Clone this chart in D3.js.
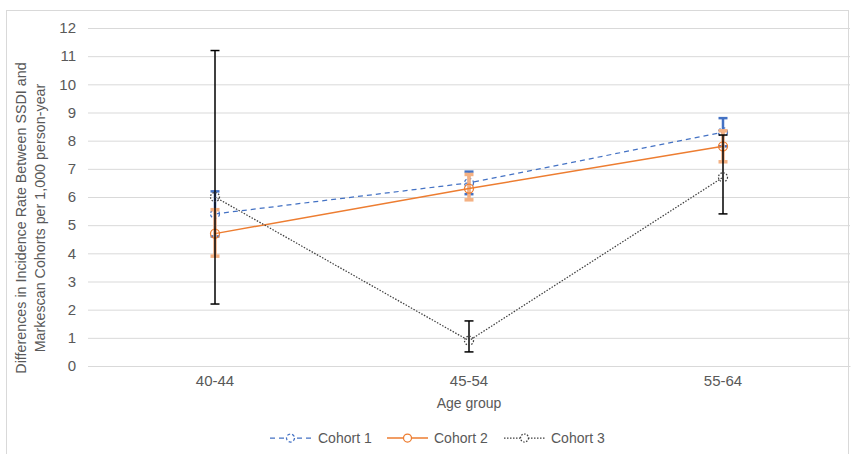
<!DOCTYPE html>
<html><head><meta charset="utf-8">
<script src="https://cdn.jsdelivr.net/npm/d3@7"></script>
<style>body{margin:0;background:#fff}svg{display:block;font-family:"Liberation Sans",Arial,sans-serif}</style>
</head><body><svg id="c" width="853" height="454"></svg>
<script>
const categories = ["40-44", "45-54", "55-64"];
const seriesNames = ["Cohort 1", "Cohort 2", "Cohort 3"];
const cohort1 = [5.4, 6.5, 8.3];
const cohort1Low = [4.6, 6.1, 7.8];
const cohort1High = [6.2, 6.9, 8.8];
const cohort2 = [4.7, 6.3, 7.8];
const cohort2Low = [3.9, 5.9, 7.25];
const cohort2High = [5.55, 6.8, 8.35];
const cohort3 = [6.0, 0.9, 6.7];
const cohort3Low = [2.2, 0.5, 5.4];
const cohort3High = [11.2, 1.6, 8.2];
const yTicks = [0,1,2,3,4,5,6,7,8,9,10,11,12];

const FONT = "Liberation Sans, Arial, sans-serif";
const svg = d3.select("#c");
svg.append("rect").attr("x",6.5).attr("y",10.5).attr("width",842).attr("height",450).attr("fill","none").attr("stroke","#d9d9d9");

const x = d3.scaleBand().domain(categories).range([88, 850]);
const y = d3.scaleLinear().domain([0,12]).range([366, 28]);
const cx = d => x(d) + x.bandwidth()/2;

const yAxis = d3.axisLeft(y).tickValues(yTicks).tickSize(-(850-88)).tickPadding(12).tickFormat(d3.format("d"));
const ga = svg.append("g").attr("transform","translate(88,0)").call(yAxis);
ga.select(".domain").remove();
ga.selectAll(".tick line").attr("stroke","#d9d9d9").attr("stroke-width",1);
ga.selectAll(".tick text").attr("fill","#595959").attr("font-size",15).attr("font-family",FONT);

const xAxis = d3.axisBottom(x).tickSize(0).tickPadding(9);
const gx = svg.append("g").attr("transform","translate(0,366)").call(xAxis);
gx.select(".domain").attr("stroke","#d9d9d9");
gx.selectAll(".tick text").attr("fill","#595959").attr("font-size",15).attr("font-family",FONT);

svg.append("text").attr("x",469).attr("y",408).attr("text-anchor","middle").attr("fill","#595959").attr("font-size",14).text("Age group");
const yt = svg.append("text").attr("transform","translate(0,218) rotate(-90)").attr("text-anchor","middle").attr("fill","#595959").attr("font-size",14.3);
yt.append("tspan").attr("x",0).attr("y",26).text("Differences in Incidence Rate Between SSDI and");
yt.append("tspan").attr("x",0).attr("y",45).text("Markescan Cohorts per 1,000 person-year");

const series = [
  {name:seriesNames[0], v:cohort1, lo:cohort1Low, hi:cohort1High, color:"#4472C4", err:"#4472C4", ew:2.5, dash:"5,4", mdash:"3,2", lw:1.25},
  {name:seriesNames[1], v:cohort2, lo:cohort2Low, hi:cohort2High, color:"#ED7D31", err:"#F4B183", ew:3.5, dash:null, mdash:null, lw:1.5},
  {name:seriesNames[2], v:cohort3, lo:cohort3Low, hi:cohort3High, color:"#404040", err:"#000000", ew:1.5, dash:"1.5,1.5", mdash:"1.5,1.5", lw:1.25}
];

const line = d3.line().x((d,i)=>cx(categories[i])).y(d=>y(d));
series.forEach(s => {
  const g = svg.append("g");
  categories.forEach((c,i) => {
    const X = cx(c);
    g.append("line").attr("x1",X).attr("x2",X).attr("y1",y(s.lo[i])).attr("y2",y(s.hi[i])).attr("stroke",s.err).attr("stroke-width",s.ew);
    [s.lo[i], s.hi[i]].forEach(v => g.append("line").attr("x1",X-4.5).attr("x2",X+4.5).attr("y1",y(v)).attr("y2",y(v)).attr("stroke",s.err).attr("stroke-width",s.ew));
  });
  g.append("path").datum(s.v).attr("d",line).attr("fill","none").attr("stroke",s.color).attr("stroke-width",s.lw).attr("stroke-dasharray",s.dash);
  g.selectAll("circle").data(s.v).join("circle").attr("cx",(d,i)=>cx(categories[i])).attr("cy",d=>y(d)).attr("r",4.5)
    .attr("fill","none").attr("stroke",s.color).attr("stroke-width",1.25).attr("stroke-dasharray",s.mdash);
});

// legend
const legPos = [{lx:270, tx:318}, {lx:387, tx:434}, {lx:504, tx:551}];
series.forEach((s,i) => {
  const p = legPos[i];
  const w = 41;
  svg.append("line").attr("x1",p.lx).attr("x2",p.lx+w).attr("y1",438).attr("y2",438).attr("stroke",s.color).attr("stroke-width",s.lw).attr("stroke-dasharray",s.dash);
  svg.append("circle").attr("cx",p.lx+w/2).attr("cy",438).attr("r",4).attr("fill","#fff").attr("stroke",s.color).attr("stroke-width",1.25).attr("stroke-dasharray",s.mdash);
  svg.append("text").attr("x",p.tx).attr("y",443).attr("fill","#595959").attr("font-size",14).attr("font-family",FONT).text(s.name);
});
</script></body></html>
